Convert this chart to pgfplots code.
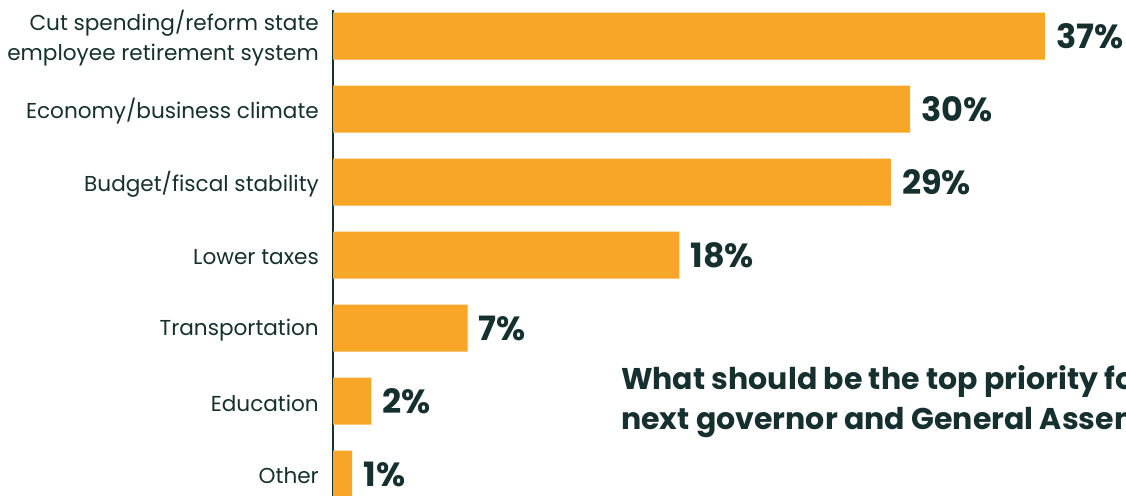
\documentclass[border=0pt]{standalone}
\usepackage{pgfplots}
\pgfplotsset{compat=1.18}
\usepackage{fontspec}
\setmainfont{Poppins}
\definecolor{barc}{HTML}{F8A627}
\definecolor{txt}{HTML}{15302F}
\begin{document}
\begin{tikzpicture}[x=1pt,y=1pt]
\useasboundingbox (0,-495) rectangle (1126,0);
\clip (0,-495) rectangle (1126,0);
\begin{axis}[
  at={(333pt,-10.45pt)}, anchor=north west,
  scale only axis, width=793pt, height=507.35pt,
  xmin=0, xmax=41.216, ymin=-0.35, ymax=6.6,
  y dir=reverse,
  hide x axis,
  axis y line*=left,
  y axis line style={txt, line width=2.5pt, -},
  ytick={0,1,2,3,4,5,6},
  yticklabels={{Cut spending/reform state\\employee retirement system},{Economy/business climate},{Budget/fiscal stability},{Lower taxes},{Transportation},{Education},{Other}},
  major tick length=0pt,
  yticklabel style={align=right, font=\fontsize{21.6}{30}\selectfont, text=txt, inner sep=0pt, xshift=-14pt, yshift=-2pt},
  xbar, bar width=47pt, bar shift=0pt,
  point meta=x,
  /pgf/number format/assume math mode=true,
  nodes near coords={\pgfmathprintnumber{\pgfplotspointmeta}\%},
  nodes near coords style={font=\bfseries\fontsize{33.5}{33.5}\selectfont, text=txt, anchor=west, inner sep=0pt, xshift=11pt},
  clip=false,
]
\addplot[fill=barc, draw=none] coordinates {(37,0) (30,1) (29,2) (18,3) (7,4) (2,5) (1,6)};
\end{axis}
\node[anchor=north west, align=left, inner sep=0pt, font=\bfseries\fontsize{30}{40}\selectfont, text=txt] at (621,-365) {What should be the top priority for the\\next governor and General Assembly?};
\end{tikzpicture}
\end{document}
